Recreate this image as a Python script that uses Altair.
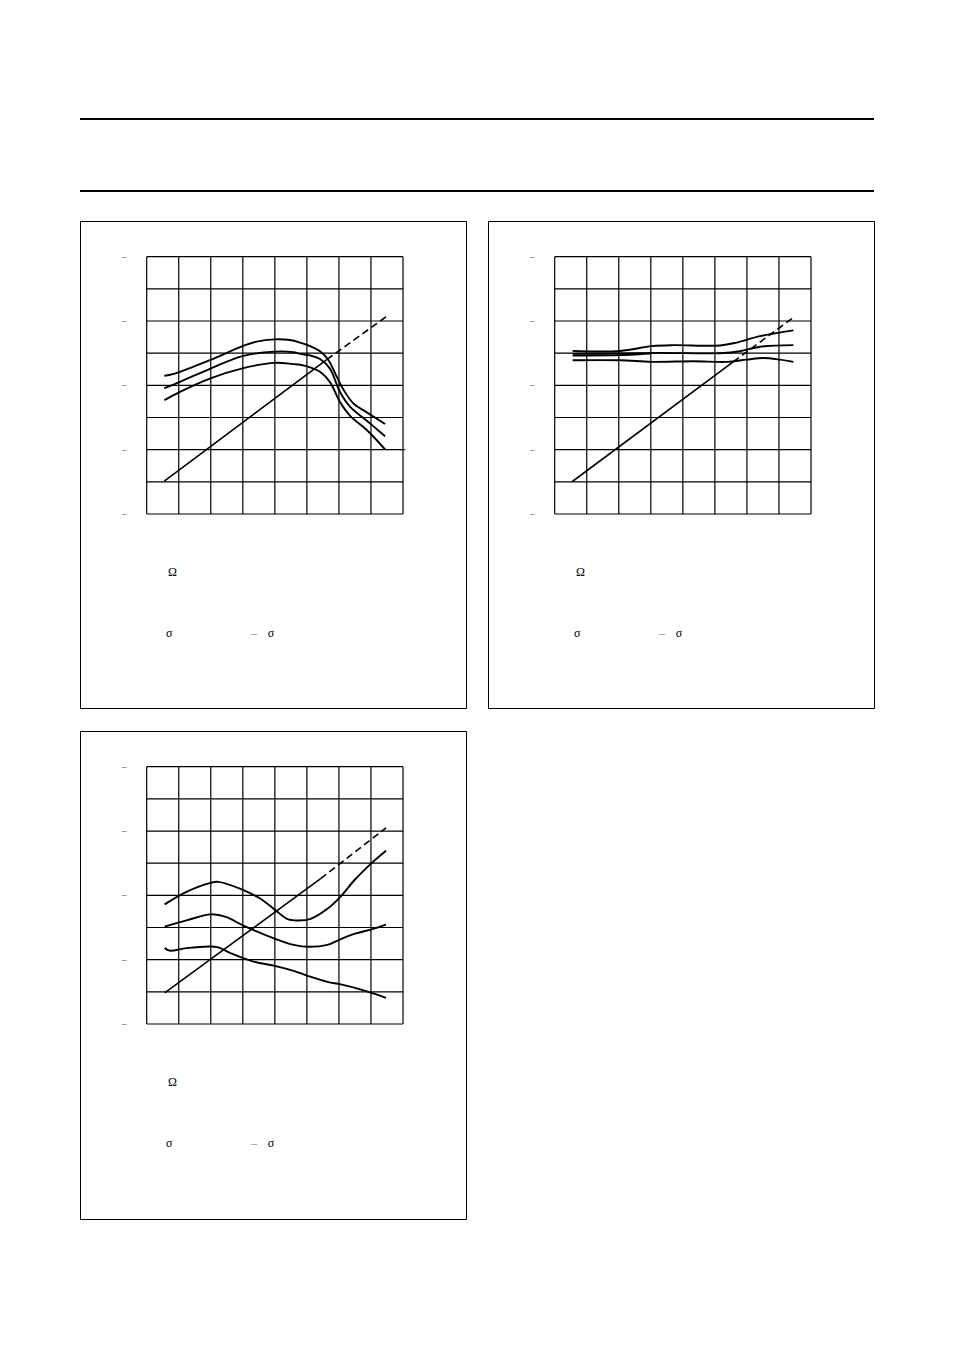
import altair as alt
import pandas as pd

# ---------------- data (values in grid divisions, 0..8 on both axes) ----------------
GRID_LINES = [0, 1, 2, 3, 4, 5, 6, 7, 8]
Y_LABEL_LINES = [0, 2, 4, 6, 8]
Y_LABEL_TEXT = "–"
HEADER_RULES = [0, 1]

# Panel 1 (upper left)
P1_TOP_X = [0.55, 0.73, 1.04, 1.99, 2.99, 3.43, 3.99, 4.47, 4.79, 5.10, 5.41, 5.67, 5.93, 6.14, 6.45, 6.87, 7.44]
P1_TOP_Y = [4.30, 4.33, 4.42, 4.79, 5.22, 5.36, 5.43, 5.41, 5.33, 5.22, 5.06, 4.79, 4.27, 3.87, 3.44, 3.16, 2.80]
P1_MID_X = [0.55, 1.04, 1.99, 2.99, 3.99, 4.58, 4.79, 5.10, 5.41, 5.72, 6.03, 6.35, 6.87, 7.44]
P1_MID_Y = [3.91, 4.11, 4.52, 4.91, 5.05, 5.03, 4.98, 4.93, 4.82, 4.52, 3.80, 3.33, 2.90, 2.42]
P1_BOT_X = [0.55, 1.04, 1.99, 2.99, 3.99, 4.58, 4.79, 5.10, 5.41, 5.72, 6.03, 6.35, 6.87, 7.44]
P1_BOT_Y = [3.54, 3.80, 4.22, 4.53, 4.70, 4.66, 4.64, 4.56, 4.42, 4.10, 3.49, 3.05, 2.61, 2.01]
P1_DIAG_SOLID_X = [0.55, 5.62]
P1_DIAG_SOLID_Y = [1.02, 4.80]
P1_DIAG_DASH_X = [5.62, 7.47]
P1_DIAG_DASH_Y = [4.80, 6.13]
P1_STUB_X = [7.98, 8.07]
P1_STUB_Y = [2.0, 2.0]

# Panel 2 (upper right)
P2_TOP_X = [0.56, 2.04, 3.03, 3.70, 5.16, 5.68, 6.41, 7.45]
P2_TOP_Y = [5.07, 5.07, 5.22, 5.25, 5.24, 5.33, 5.53, 5.71]
P2_MID_X = [0.56, 2.04, 3.29, 5.16, 5.78, 6.41, 7.45]
P2_MID_Y = [4.98, 4.99, 5.01, 5.00, 5.06, 5.20, 5.25]
P2_MID2_X = [0.56, 2.04, 3.00]
P2_MID2_Y = [4.93, 4.94, 4.99]
P2_BOT_X = [0.56, 2.04, 3.03, 4.33, 5.37, 5.99, 6.51, 7.03, 7.45]
P2_BOT_Y = [4.78, 4.78, 4.73, 4.75, 4.73, 4.80, 4.85, 4.80, 4.73]
P2_DIAG_SOLID_X = [0.55, 5.57]
P2_DIAG_SOLID_Y = [1.01, 4.73]
P2_DIAG_DASH_X = [5.57, 7.45]
P2_DIAG_DASH_Y = [4.73, 6.11]

# Panel 3 (lower left)
P3_A_X = [0.56, 1.24, 2.00, 2.23, 2.91, 3.54, 4.03, 4.38, 4.70, 5.12, 5.64, 6.06, 6.48, 7.07, 7.47]
P3_A_Y = [3.72, 4.11, 4.39, 4.42, 4.21, 3.90, 3.53, 3.27, 3.22, 3.27, 3.58, 3.97, 4.47, 5.05, 5.39]
P3_B_X = [0.56, 1.24, 2.00, 2.49, 3.02, 4.03, 4.59, 5.05, 5.64, 6.06, 6.48, 7.07, 7.47]
P3_B_Y = [3.03, 3.22, 3.41, 3.32, 3.06, 2.64, 2.46, 2.40, 2.46, 2.64, 2.80, 2.96, 3.09]
P3_C_X = [0.56, 0.71, 1.24, 2.00, 2.23, 2.70, 3.33, 4.03, 4.59, 5.05, 5.64, 6.06, 6.69, 7.07, 7.47]
P3_C_Y = [2.36, 2.28, 2.36, 2.41, 2.38, 2.17, 1.94, 1.80, 1.65, 1.49, 1.31, 1.23, 1.07, 0.95, 0.81]
P3_DIAG_SOLID_X = [0.56, 5.43]
P3_DIAG_SOLID_Y = [0.97, 4.52]
P3_DIAG_DASH_X = [5.43, 7.47]
P3_DIAG_DASH_Y = [4.52, 6.10]

NOTE_TEXTS = ["Ω", "σ", "σ"]
NOTE_DASH_TEXTS = ["–"]

# ---------------- layout (pixels / positions, kept apart from the data) ----------------
PANEL_W = 386
GRID_LEFT_PX, GRID_RIGHT_PX = 66.7, 323.0
GRID_TOP_PX, GRID_BOTTOM_PX = 35.7, 293.0
UX = (GRID_RIGHT_PX - GRID_LEFT_PX) / 8
UY = (GRID_BOTTOM_PX - GRID_TOP_PX) / 8
Y_LABEL_X = -0.70
NOTE_X = [0.80, 0.705, 3.88]
NOTE_Y = [-1.81, -3.71, -3.71]
NOTE_DASH_X = [3.36]
NOTE_DASH_Y = [-3.71]

LINE_W = 1.9
DIAG_W = 1.6
GRID_W = 1.2
DASH = [7, 4]


def long_df(pairs):
    rows = []
    for name, xs, ys in pairs:
        for i, (x, y) in enumerate(zip(xs, ys)):
            rows.append({"series": name, "i": i, "x": x, "y": y})
    return pd.DataFrame(rows)


def panel(curves, solid, dashed, height, stub=None):
    xs = alt.Scale(domain=[-GRID_LEFT_PX / UX, (PANEL_W - GRID_LEFT_PX) / UX], nice=False, zero=False)
    ys = alt.Scale(domain=[-(height - GRID_BOTTOM_PX) / UY, 8 + GRID_TOP_PX / UY], nice=False, zero=False)

    def X(f):
        return alt.X(f, type="quantitative", scale=xs, axis=None)

    def Y(f):
        return alt.Y(f, type="quantitative", scale=ys, axis=None)

    grid_df = pd.DataFrame({"g": GRID_LINES, "lo": 0, "hi": 8})
    vgrid = alt.Chart(grid_df).mark_rule(color="black", strokeWidth=GRID_W).encode(
        x=X("g"), y=Y("lo"), y2="hi")
    hgrid = alt.Chart(grid_df).mark_rule(color="black", strokeWidth=GRID_W).encode(
        y=Y("g"), x=X("lo"), x2="hi")

    curves_df = long_df(curves)
    lines = alt.Chart(curves_df).mark_line(
        color="black", strokeWidth=LINE_W, interpolate="catmull-rom").encode(
        x=X("x"), y=Y("y"), detail="series:N", order="i:Q")

    solid_df = pd.DataFrame({"x": solid[0], "y": solid[1]})
    dash_df = pd.DataFrame({"x": dashed[0], "y": dashed[1]})
    diag = alt.Chart(solid_df).mark_line(color="black", strokeWidth=DIAG_W).encode(x=X("x"), y=Y("y"))
    diag_dash = alt.Chart(dash_df).mark_line(
        color="black", strokeWidth=DIAG_W, strokeDash=DASH).encode(x=X("x"), y=Y("y"))

    ylab_df = pd.DataFrame({"y": Y_LABEL_LINES, "x": Y_LABEL_X, "t": Y_LABEL_TEXT})
    ylabels = alt.Chart(ylab_df).mark_text(
        color="#9a9a9a", fontSize=12, font="DejaVu Sans", align="center", baseline="middle").encode(
        x=X("x"), y=Y("y"), text="t:N")

    notes_df = pd.DataFrame({"t": NOTE_TEXTS, "x": NOTE_X, "y": NOTE_Y})
    notes = alt.Chart(notes_df).mark_text(
        color="black", fontSize=12, font="Liberation Serif", align="center", baseline="middle").encode(
        x=X("x"), y=Y("y"), text="t:N")
    dash_notes_df = pd.DataFrame({"t": NOTE_DASH_TEXTS, "x": NOTE_DASH_X, "y": NOTE_DASH_Y})
    dash_notes = alt.Chart(dash_notes_df).mark_text(
        color="#8a8a8a", fontSize=12, font="Liberation Serif", align="center", baseline="middle").encode(
        x=X("x"), y=Y("y"), text="t:N")

    layers = [vgrid, hgrid, lines, diag, diag_dash, ylabels, notes, dash_notes]
    if stub is not None:
        stub_df = pd.DataFrame({"x": stub[0], "y": stub[1]})
        layers.append(alt.Chart(stub_df).mark_line(color="black", strokeWidth=1).encode(x=X("x"), y=Y("y")))
    return alt.layer(*layers).properties(width=PANEL_W, height=height)


p1 = panel(
    [("top", P1_TOP_X, P1_TOP_Y), ("mid", P1_MID_X, P1_MID_Y), ("bot", P1_BOT_X, P1_BOT_Y)],
    (P1_DIAG_SOLID_X, P1_DIAG_SOLID_Y), (P1_DIAG_DASH_X, P1_DIAG_DASH_Y), 487,
    stub=(P1_STUB_X, P1_STUB_Y))
p2 = panel(
    [("top", P2_TOP_X, P2_TOP_Y), ("mid", P2_MID_X, P2_MID_Y), ("mid2", P2_MID2_X, P2_MID2_Y),
     ("bot", P2_BOT_X, P2_BOT_Y)],
    (P2_DIAG_SOLID_X, P2_DIAG_SOLID_Y), (P2_DIAG_DASH_X, P2_DIAG_DASH_Y), 487)
p3 = panel(
    [("a", P3_A_X, P3_A_Y), ("b", P3_B_X, P3_B_Y), ("c", P3_C_X, P3_C_Y)],
    (P3_DIAG_SOLID_X, P3_DIAG_SOLID_Y), (P3_DIAG_DASH_X, P3_DIAG_DASH_Y), 488)

header_df = pd.DataFrame({"y": HEADER_RULES, "x0": 0, "x1": 1})
header = alt.Chart(header_df).mark_rule(color="black", strokeWidth=2).encode(
    y=alt.Y("y:Q", scale=alt.Scale(domain=[0, 1], nice=False), axis=None),
    x=alt.X("x0:Q", scale=alt.Scale(domain=[0, 1], nice=False), axis=None),
    x2="x1",
).properties(width=794, height=72, view=alt.ViewBackground(stroke="transparent"))

row1 = alt.hconcat(p1, p2, spacing=22, bounds="flush")
body = alt.vconcat(row1, p3, spacing=21)
chart = alt.vconcat(header, body, spacing=27).properties(
    padding={"left": 70, "top": 109, "right": 10, "bottom": 10},
    background="white",
).configure_view(stroke="black", strokeWidth=1)

chart.save("out.html", embed_options={"renderer": "svg", "actions": False})
